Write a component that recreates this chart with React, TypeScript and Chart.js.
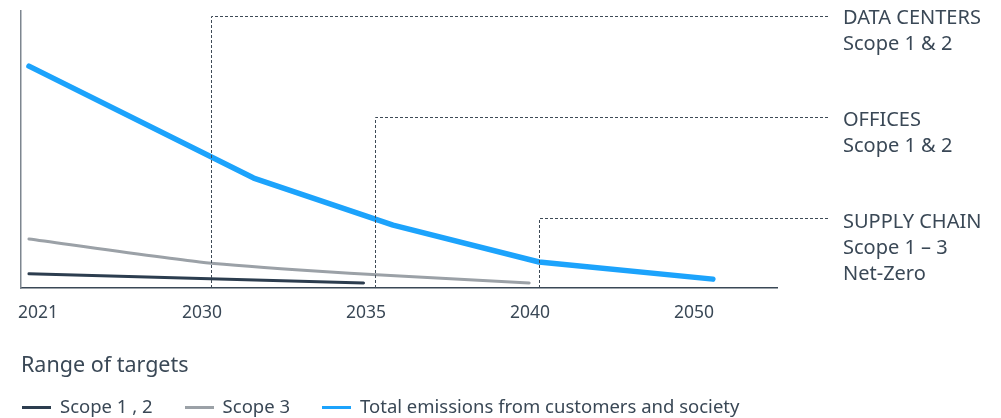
import React, { useEffect, useRef } from "react";
import { Chart, registerables } from "chart.js";

Chart.register(...registerables);

// ---- data ----
const xTickLabels = ["2021", "2030", "2035", "2040", "2050"];
const xTickValues = [0, 1, 2, 3, 4];

const scope12X = [-0.11, 1.93];
const scope12Y = [5.1, 1.8];

const scope3X = [-0.11, 0.93, 1.54, 2.15, 2.94];
const scope3Y = [17.7, 9.4, 6.5, 4.3, 1.8];

const totalX = [-0.11, 1.26, 2.11, 3.0, 4.06];
const totalY = [80.1, 39.7, 22.7, 9.4, 3.2];

const targetNames = ["DATA CENTERS", "OFFICES", "SUPPLY CHAIN"];
const targetSubLines = [["Scope 1 & 2"], ["Scope 1 & 2"], ["Scope 1 – 3", "Net-Zero"]];
const targetX = [1, 2, 3];
const targetY = [98.2, 61.7, 25.3];

const legendTitle = "Range of targets";
const seriesNames = ["Scope 1 , 2", "Scope 3", "Total emissions from customers and society"];
const seriesColors = ["#2c3d4f", "#9ba1a7", "#1ca3fc"];
const seriesWidths = [3, 3, 5.5];

const TEXT = "#3a4856";
const FONT = "'Noto Sans', 'Open Sans', sans-serif";

const pts = (xs: number[], ys: number[]) => xs.map((x, i) => ({ x, y: ys[i] }));

const labelRight = 828;

const targetsPlugin = {
  id: "targets",
  afterDatasetsDraw(chart: any) {
    const { ctx, scales, chartArea } = chart;
    const xs = scales.x;
    const ys = scales.y;
    ctx.save();
    ctx.strokeStyle = "#3e4a56";
    ctx.lineWidth = 1;
    ctx.setLineDash([3, 2]);
    targetX.forEach((tx, i) => {
      const px = Math.round(xs.getPixelForValue(tx)) + 0.5;
      const py = Math.round(ys.getPixelForValue(targetY[i])) + 0.5;
      ctx.beginPath();
      ctx.moveTo(px, chartArea.bottom);
      ctx.lineTo(px, py);
      ctx.lineTo(labelRight, py);
      ctx.stroke();
    });
    ctx.restore();
  },
};

export default function App() {
  const ref = useRef<HTMLCanvasElement | null>(null);

  useEffect(() => {
    if (!ref.current) return;
    const chart = new Chart(ref.current, {
      type: "line",
      data: {
        datasets: [
          { label: seriesNames[0], data: pts(scope12X, scope12Y), borderColor: seriesColors[0], borderWidth: seriesWidths[0] },
          { label: seriesNames[1], data: pts(scope3X, scope3Y), borderColor: seriesColors[1], borderWidth: seriesWidths[1], tension: 0.2 },
          { label: seriesNames[2], data: pts(totalX, totalY), borderColor: seriesColors[2], borderWidth: seriesWidths[2], tension: 0 },
        ] as any,
      },
      options: {
        animation: false,
        responsive: true,
        maintainAspectRatio: false,
        layout: { padding: { top: 11, right: 224, left: 0, bottom: 0 } },
        elements: {
          point: { radius: 0, hoverRadius: 0 },
          line: { borderCapStyle: "round", borderJoinStyle: "round", fill: false },
        },
        plugins: { legend: { display: false }, tooltip: { enabled: false } },
        scales: {
          x: {
            type: "linear",
            min: -0.1585,
            max: 4.451,
            afterBuildTicks: (s: any) => {
              s.ticks = xTickValues.map((v) => ({ value: v }));
            },
            afterFit: (s: any) => {
              s.height = 130;
            },
            grid: { display: false, drawTicks: false },
            border: { color: "#3a4856", width: 1.5 },
            ticks: {
              padding: 15,
              labelOffset: -9,
              color: TEXT,
              font: { family: FONT, size: 17.5 },
              callback: (v: any) => {
                const i = xTickValues.indexOf(Number(v));
                return i >= 0 ? xTickLabels[i] : "";
              },
              maxRotation: 0,
              autoSkip: false,
            },
          },
          y: {
            min: 0,
            max: 100,
            afterFit: (s: any) => {
              s.width = 21;
            },
            grid: { display: false, drawTicks: false },
            border: { color: "#7d868f", width: 1.5 },
            ticks: { display: false },
          },
        },
      },
      plugins: [targetsPlugin],
    });
    return () => chart.destroy();
  }, []);

  const textStyle: React.CSSProperties = { fontFamily: FONT, color: TEXT, whiteSpace: "nowrap" };
  const labelTops = [4, 106, 208];

  return (
    <div style={{ position: "absolute", left: 0, top: 0, width: 1001, height: 418, background: "#fff" }}>
      <canvas ref={ref} style={{ position: "absolute", left: 0, top: 0 }} />
      {targetNames.map((n, i) => (
        <div key={n} style={{ ...textStyle, position: "absolute", left: 843, top: labelTops[i], fontSize: 20, lineHeight: "26px" }}>
          <div>{n}</div>
          {targetSubLines[i].map((s) => (
            <div key={s}>{s}</div>
          ))}
        </div>
      ))}
      <div style={{ ...textStyle, position: "absolute", left: 21, top: 352, fontSize: 21.5, lineHeight: "24px" }}>{legendTitle}</div>
      <div style={{ ...textStyle, position: "absolute", left: 22, top: 395, fontSize: 18.5, lineHeight: "22px", display: "flex", alignItems: "center" }}>
        {seriesNames.map((n, i) => (
          <div key={n} style={{ display: "flex", alignItems: "center", marginRight: 32 }}>
            <span style={{ display: "inline-block", width: 29, height: 3, background: seriesColors[i], marginRight: 9, marginTop: 2 }} />
            <span>{n}</span>
          </div>
        ))}
      </div>
    </div>
  );
}
